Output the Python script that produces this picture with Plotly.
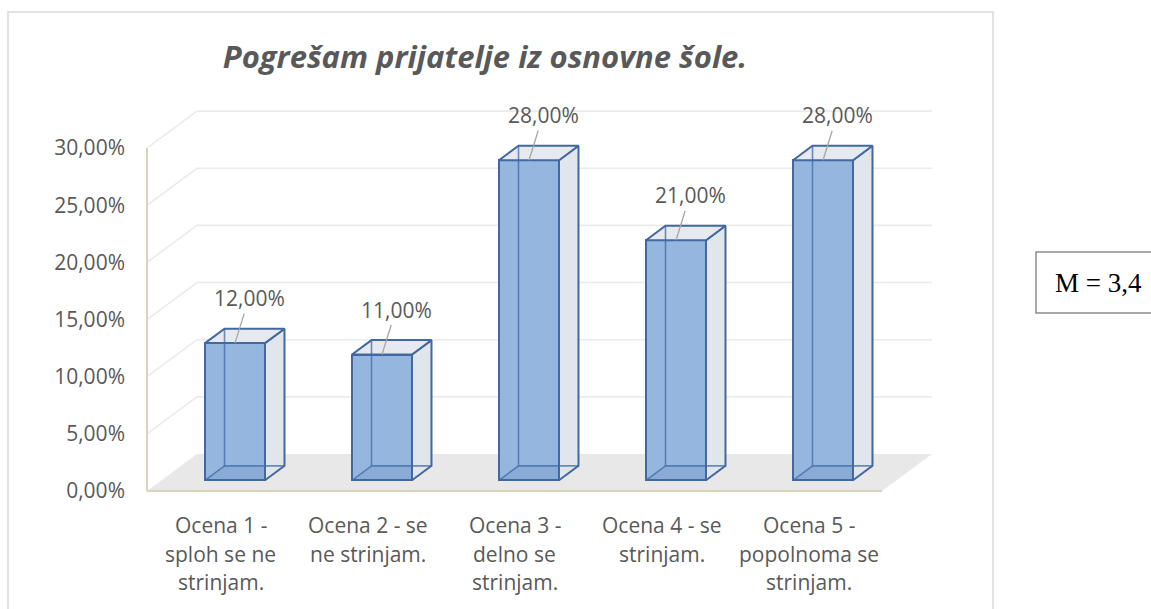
import plotly.graph_objects as go

# ---------------- data ----------------
category_lines = [
    ["Ocena 1 -", "sploh se ne", "strinjam."],
    ["Ocena 2 - se", "ne strinjam."],
    ["Ocena 3 -", "delno se", "strinjam."],
    ["Ocena 4 - se", "strinjam."],
    ["Ocena 5 -", "popolnoma se", "strinjam."],
]
values = [12, 11, 28, 21, 28]
value_labels = ["12,00%", "11,00%", "28,00%", "21,00%", "28,00%"]
y_tick_values = [0, 5, 10, 15, 20, 25, 30]
y_tick_labels = ["0,00%", "5,00%", "10,00%", "15,00%", "20,00%", "25,00%", "30,00%"]
title_text = "Pogrešam prijatelje iz osnovne šole."
mean_text = "M = 3,4"

# ---------------- geometry (pixels) ----------------
W, H = 1151, 609
X0, Y0 = 147.0, 491.0        # pixel position of (x=0, y=0) on the front plane
SX, SY = 147.0, 11.43        # pixels per category / per percent
DXP, DYP = 50.0, 37.0        # depth of the 3D box in pixels
L, R, T, B = 126, 975, 95, 512

xr = [(L - X0) / SX, (R - X0) / SX]
yr = [(Y0 - B) / SY, (Y0 - T) / SY]
DX, DY = DXP / SX, DYP / SY
ZF, ZB = 0.29, 0.68          # front / back depth of the columns
HW = 0.204                   # half width of a column (category units)
VMAX = y_tick_values[-1]
NC = len(values)


def P(x, v, z):
    return x + z * DX, v + z * DY


def px_to_paper_x(px):
    return (px - L) / (R - L)


def px_to_paper_y(py):
    return (B - py) / (B - T)


FONT = "Open Sans"
GREY_TXT = "#595959"
EDGE = "#41699f"
FRONT = "#95b6df"
SIDE = "#e1e5ec"
TOP = "#e6eaf0"

fig = go.Figure()
shapes = []


def path_from(points):
    return "M " + " L ".join(f"{a},{b}" for a, b in points) + " Z"


# floor
floor = [P(0, 0, 0), P(NC, 0, 0), P(NC, 0, 1), P(0, 0, 1)]
shapes.append(dict(type="path", path=path_from(floor), xref="x", yref="y",
                   fillcolor="#e8e8e8", line=dict(width=0), layer="below"))
# back wall + side wall gridlines
for v in y_tick_values[1:]:
    a = P(0, v, 0); b = P(0, v, 1); c = P(NC, v, 1)
    shapes.append(dict(type="path", path=f"M {a[0]},{a[1]} L {b[0]},{b[1]} L {c[0]},{c[1]}",
                       xref="x", yref="y", line=dict(color="#ebebeb", width=1.6), layer="below"))
# front axis lines (tan)
a = P(0, 0, 0); b = P(0, VMAX, 0); c = P(NC, 0, 0)
shapes.append(dict(type="line", x0=a[0], y0=a[1], x1=b[0], y1=b[1], xref="x", yref="y",
                   line=dict(color="#d9d4b6", width=2), layer="below"))
shapes.append(dict(type="line", x0=a[0], y0=a[1], x1=c[0], y1=c[1], xref="x", yref="y",
                   line=dict(color="#d9d4b6", width=2), layer="below"))

# front faces of the columns as bars
bar_x = [i + 0.5 + ZF * DX for i in range(NC)]
fig.add_trace(go.Bar(
    x=bar_x, y=values, base=[ZF * DY] * NC, width=2 * HW,
    marker=dict(color=FRONT, line=dict(color=EDGE, width=2)),
    hoverinfo="skip", showlegend=False,
))

# remaining faces and edges
for i, v in enumerate(values):
    cx = i + 0.5
    xl, xrr = cx - HW, cx + HW
    FLB, FRB, FLT, FRT = P(xl, 0, ZF), P(xrr, 0, ZF), P(xl, v, ZF), P(xrr, v, ZF)
    BLB, BRB, BLT, BRT = P(xl, 0, ZB), P(xrr, 0, ZB), P(xl, v, ZB), P(xrr, v, ZB)
    # seen-through bottom face
    poly = [FLB, FRB, BRB, BLB, FLB]
    fig.add_trace(go.Scatter(x=[p[0] for p in poly], y=[p[1] for p in poly], mode="lines",
                             fill="toself", fillcolor="rgba(60,100,160,0.12)",
                             line=dict(width=0), hoverinfo="skip", showlegend=False))
    # right side face
    poly = [FRB, BRB, BRT, FRT, FRB]
    fig.add_trace(go.Scatter(x=[p[0] for p in poly], y=[p[1] for p in poly], mode="lines",
                             fill="toself", fillcolor=SIDE, line=dict(color=EDGE, width=2),
                             hoverinfo="skip", showlegend=False))
    # top face
    poly = [FLT, FRT, BRT, BLT, FLT]
    fig.add_trace(go.Scatter(x=[p[0] for p in poly], y=[p[1] for p in poly], mode="lines",
                             fill="toself", fillcolor=TOP, line=dict(color=EDGE, width=2),
                             hoverinfo="skip", showlegend=False))
    # hidden edges seen through the front face
    hx = [BLT[0], BLB[0], BRB[0], None, FLB[0], BLB[0]]
    hy = [BLT[1], BLB[1], BRB[1], None, FLB[1], BLB[1]]
    fig.add_trace(go.Scatter(x=hx, y=hy, mode="lines",
                             line=dict(color="rgba(65,105,165,0.75)", width=1.6),
                             hoverinfo="skip", showlegend=False))

# data labels with leader lines
annotations = []
for i, v in enumerate(values):
    tx, ty = P(i + 0.5, v, ZF)
    annotations.append(dict(x=tx, y=ty, xref="x", yref="y", text=value_labels[i],
                            showarrow=True, arrowhead=0, arrowwidth=1.3, arrowcolor="#a6a6a6",
                            ax=14, ay=-45, standoff=0,
                            font=dict(family=FONT, size=21, color=GREY_TXT)))

# category labels (one annotation per line, Excel-like line spacing)
first_line_px, line_step_px = 525, 28.5
for i, lines in enumerate(category_lines):
    for k, line in enumerate(lines):
        annotations.append(dict(x=i + 0.5, y=px_to_paper_y(first_line_px + k * line_step_px),
                                xref="x", yref="paper", text=line, showarrow=False,
                                yanchor="middle", xanchor="center",
                                font=dict(family=FONT, size=21, color=GREY_TXT)))

# mean box
annotations.append(dict(x=px_to_paper_x(1098), y=px_to_paper_y(283), xref="paper", yref="paper",
                        text=mean_text, showarrow=False, xanchor="center", yanchor="middle",
                        font=dict(family="Liberation Serif", size=27, color="#000000")))
shapes.append(dict(type="rect", xref="paper", yref="paper",
                   x0=px_to_paper_x(1036), x1=px_to_paper_x(1170),
                   y0=px_to_paper_y(313), y1=px_to_paper_y(252),
                   line=dict(color="#8c8c8c", width=1.5), fillcolor="rgba(0,0,0,0)"))
# outer chart border
shapes.append(dict(type="rect", xref="paper", yref="paper",
                   x0=px_to_paper_x(8), x1=px_to_paper_x(993),
                   y0=px_to_paper_y(630), y1=px_to_paper_y(12),
                   line=dict(color="#d9d9d9", width=1.5), fillcolor="rgba(0,0,0,0)",
                   layer="below"))

fig.update_layout(
    width=W, height=H, autosize=False,
    margin=dict(l=L, r=W - R, t=T, b=H - B, pad=0),
    paper_bgcolor="white", plot_bgcolor="rgba(0,0,0,0)",
    title=dict(text=title_text, x=485 / W, y=1 - 57 / H, xanchor="center", yanchor="middle",
               xref="container", yref="container",
               font=dict(family=FONT, size=31, color=GREY_TXT, style="italic", weight="bold")),
    xaxis=dict(range=xr, showgrid=False, zeroline=False, showline=False,
               showticklabels=False, ticks="", fixedrange=True),
    yaxis=dict(range=yr, showgrid=False, zeroline=False, showline=False,
               tickmode="array", tickvals=y_tick_values, ticktext=y_tick_labels,
               ticks="", tickfont=dict(family=FONT, size=21, color=GREY_TXT), fixedrange=True),
    shapes=shapes, annotations=annotations, showlegend=False, bargap=0,
)

fig.write_html("out.html", config={"displayModeBar": False},
               post_script="document.body.style.margin='0';")
